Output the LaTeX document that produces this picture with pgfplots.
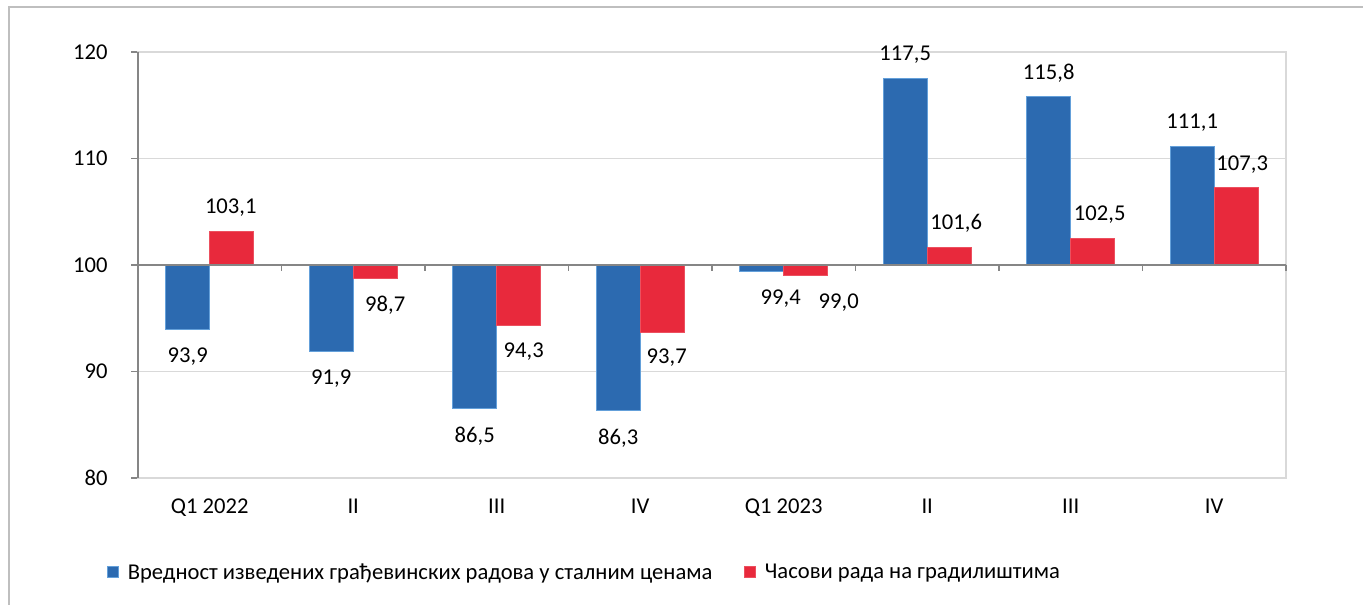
\documentclass[border=0pt]{standalone}
\usepackage{pgfplots}
\usepackage{pgfplotstable}
\pgfplotsset{compat=1.18}
\usepackage{fontspec}
\setmainfont{Carlito}
\definecolor{barblue}{RGB}{44,106,176}
\definecolor{bluedge}{RGB}{100,160,218}
\definecolor{barred}{RGB}{232,41,60}
\definecolor{rededge}{RGB}{236,80,95}
\definecolor{gridc}{RGB}{217,217,217}
\definecolor{axisc}{RGB}{134,134,134}
\definecolor{framec}{RGB}{191,191,191}
\pgfkeys{/pgf/number format/assume math mode=true}
\pgfplotstableread{
x b bdx bdy r rdx rdy
0 93.9 0 -27 103.1 -1 24
1 91.9 0 -27 98.7 10 -26
2 86.5 0 -27 94.3 5 -26
3 86.3 0 -27 93.7 4.5 -26
4 99.4 19 -27 99.0 33 -27
5 117.5 0 24 101.6 7 25
6 115.8 0 24 102.5 7 24
7 111.1 0 24 107.3 6 23
}\datatable
\newcommand{\chartfont}{\fontsize{22.6}{25}\selectfont}
\begin{document}
\begin{tikzpicture}
\useasboundingbox (0pt,0pt) rectangle (1363pt,605pt);
\draw[framec, line width=2pt] (8.5pt,0pt) -- (8.5pt,597.5pt) -- (1365pt,597.5pt);
\begin{axis}[
  at={(138pt,127pt)}, anchor=south west,
  width=1148pt, height=426pt, scale only axis,
  clip=false,
  xmin=-0.5, xmax=7.5, ymin=-20, ymax=20,
  ybar=0pt, bar width=44pt,
  axis line style={draw=gridc, line width=1.3pt},
  ytick={-20,-10,0,10,20},
  yticklabels={80,90,100,110,120},
  ytick pos=left,
  ymajorgrids,
  grid style={draw=gridc, line width=1.3pt},
  tick align=outside,
  major tick length=7pt,
  ytick style={draw=axisc, line width=1.3pt},
  xtick={0,...,7},
  xticklabels={Q1 2022, II, III, IV, Q1 2023, II, III, IV},
  xtick style={draw=none},
  xtick pos=bottom,
  tick label style={font=\chartfont, text=black},
  yticklabel style={xshift=-20pt},
  xticklabel style={yshift=-10pt},
  point meta=explicit,
  nodes near coords={\pgfmathprintnumber[fixed,fixed zerofill,precision=1,use comma]{\pgfplotspointmeta}},
  every node near coord/.append style={font=\chartfont, text=black, anchor=center, xshift=\dx pt, yshift=\dy pt},
  legend image code/.code={\draw[#1,/tikz/.cd,line width=0.6pt] (0pt,-5.5pt) rectangle (11pt,5.5pt);},
  legend style={at={(axis description cs:-0.027,-0.2207)}, anchor=west, draw=none, fill=none, inner sep=0pt,
    font=\chartfont, nodes={inner sep=0pt},
    /tikz/every odd column/.append style={column sep=9pt},
    /tikz/every even column/.append style={column sep=32pt}},
  legend columns=2,
  legend cell align=left,
]
\addplot[fill=barblue, draw=bluedge, line width=1pt,
  visualization depends on={\thisrow{bdx} \as \dx},
  visualization depends on={\thisrow{bdy} \as \dy}]
  table[x=x, y expr=\thisrow{b}-100, meta=b] {\datatable};
\addlegendentry{Вредност изведених грађевинских радова у сталним ценама}
\addplot[fill=barred, draw=rededge, line width=1pt,
  visualization depends on={\thisrow{rdx} \as \dx},
  visualization depends on={\thisrow{rdy} \as \dy}]
  table[x=x, y expr=\thisrow{r}-100, meta=r] {\datatable};
\addlegendentry{Часови рада на градилиштима}
\draw[axisc, line width=1.8pt] (axis cs:-0.5,0) -- (axis cs:7.5,0);
\draw[axisc, line width=1.8pt] (axis cs:-0.5,-20) -- (axis cs:-0.5,20);
\pgfplotsinvokeforeach{0.5,1.5,2.5,3.5,4.5,5.5,6.5,7.5}{
  \draw[axisc, line width=1.3pt] (axis cs:#1,0) -- ++(0pt,-6pt);
}
\end{axis}
\end{tikzpicture}
\end{document}
